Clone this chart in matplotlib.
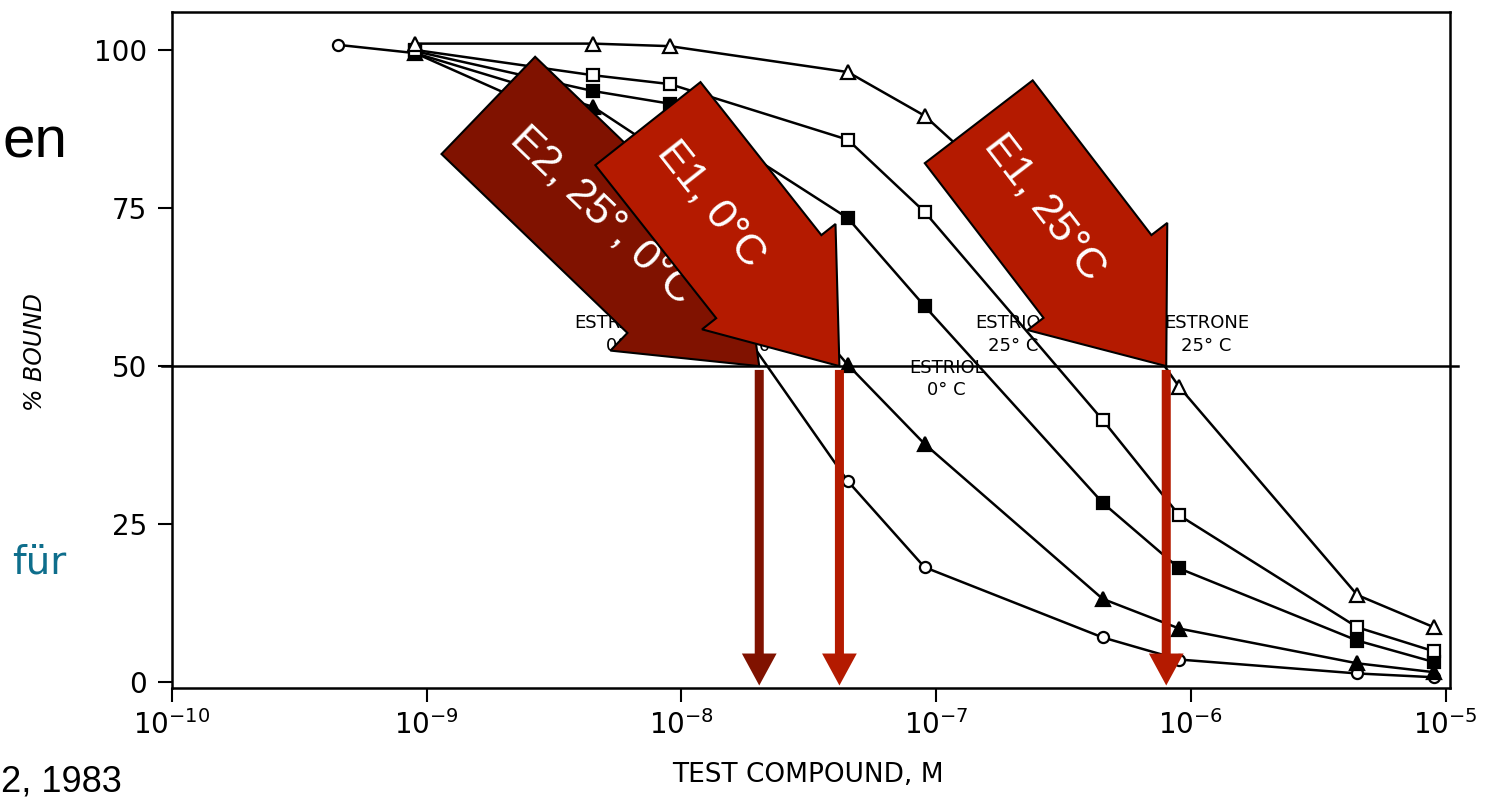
import matplotlib
matplotlib.use("Agg")
import matplotlib.pyplot as plt
import matplotlib.transforms as mtransforms
from matplotlib.patches import Polygon, FancyArrowPatch
import numpy as np

plt.rcParams['font.family'] = ['Liberation Sans Narrow', 'DejaVu Sans']
plt.rcParams['mathtext.default'] = 'regular'

# concentrations of test compound (M)
conc = [4.5e-10, 9e-10, 4.5e-9, 9e-9, 4.5e-8, 9e-8, 4.5e-7, 9e-7, 4.5e-6, 9e-6]
# % bound
estradiol_0 = [100.8, 99.5, 87.0, 72.0, 31.8, 18.2, 7.1, 3.6, 1.4, 0.8]
estrone_0 = [None, 99.5, 91.0, 83.0, 50.2, 37.7, 13.2, 8.5, 3.0, 1.6]
estriol_0 = [None, 99.8, 93.5, 91.5, 73.4, 59.5, 28.4, 18.0, 6.6, 3.2]
estriol_25 = [None, 100.0, 96.0, 94.6, 85.8, 74.4, 41.5, 26.4, 8.7, 4.9]
estrone_25 = [None, 101.0, 101.0, 100.6, 96.5, 89.6, 64.0, 46.7, 13.8, 8.7]

y_ticks = [0, 25, 50, 75, 100]
x_ticks = [1e-10, 1e-9, 1e-8, 1e-7, 1e-6, 1e-5]
x_ticklabels = ['$10^{-10}$', '$10^{-9}$', '$10^{-8}$', '$10^{-7}$', '$10^{-6}$', '$10^{-5}$']

# 50 % crossings marked with arrows
arrow_labels = ['E2, 25°, 0°C', 'E1, 0°C', 'E1, 25°C']
arrow_x = [2.02e-8, 4.17e-8, 8.0e-7]
arrow_colors = ['#801200', '#B41A00', '#B41A00']

curve_labels = [('ESTRADIOL\n0° C', 6.0e-9, 55), ('ESTRONE\n0° C', 2.4e-8, 55),
                ('ESTRIOL\n0° C', 1.1e-7, 48), ('ESTRIOL\n25° C', 2.0e-7, 55),
                ('ESTRONE\n25° C', 1.15e-6, 55)]


def pairs(ys):
    xs = [c for c, v in zip(conc, ys) if v is not None]
    vs = [v for v in ys if v is not None]
    return xs, vs


fig = plt.figure(figsize=(14.88, 8), dpi=100)
ax = fig.add_axes([172 / 1488, 1 - 688 / 800, 1278 / 1488, 676 / 800])
ax.set_xscale('log')
ax.set_xlim(1e-10, 1.04e-5)
ax.set_ylim(-0.9, 106)

series = [
    (estradiol_0, 'o', 'white', 8),
    (estrone_0, '^', 'black', 10),
    (estriol_0, 's', 'black', 8),
    (estriol_25, 's', 'white', 8),
    (estrone_25, '^', 'white', 10),
]
for ys, m, fc, ms in series:
    xs, vs = pairs(ys)
    ax.plot(xs, vs, color='black', lw=1.8, marker=m, mfc=fc, mec='black',
            mew=1.6, ms=ms, zorder=3)

for txt, x, y in curve_labels:
    ax.text(x, y, txt, fontsize=13, ha='center', va='center', zorder=2,
            linespacing=1.3)

ax.set_xticks(x_ticks)
ax.set_xticklabels(x_ticklabels)
ax.minorticks_off()
ax.set_yticks(y_ticks)
ax.tick_params(axis='both', direction='out', length=10, width=1.5,
               labelsize=20, colors='black')
ax.tick_params(axis='x', pad=6)
ax.tick_params(axis='y', pad=8)
for s in ax.spines.values():
    s.set_linewidth(1.8)

# 50 % line
trans_line = mtransforms.blended_transform_factory(ax.transAxes, ax.transData)
ax.plot([-0.008, 1.006], [50, 50], color='black', lw=1.8,
        transform=trans_line, clip_on=False, zorder=4)

# vertical arrows down to the x axis
for x, c in zip(arrow_x, arrow_colors):
    arr = FancyArrowPatch((x, 49.4), (x, -0.5),
                          arrowstyle='simple,head_length=2.3,head_width=2.5,tail_width=0.65',
                          mutation_scale=10, facecolor=c, edgecolor='none', lw=0,
                          shrinkA=0, shrinkB=0, zorder=5)
    ax.add_patch(arr)


def block_arrow(x, label, color, angle, body_len, body_w, head_len, head_half, text_t, z):
    a = np.radians(angle)
    d = np.array([np.cos(a), np.sin(a)])      # pixel coords, y down
    pl = np.array([-np.sin(a), np.cos(a)])
    base = -head_len * d
    nl = base + body_w / 2 * pl
    nr = base - body_w / 2 * pl
    pts = [nl - body_len * d, nl, base + head_half * pl, np.zeros(2),
           base - head_half * pl, nr, nr - body_len * d]
    verts = [(p[0] / 100, -p[1] / 100) for p in pts]
    tr = fig.dpi_scale_trans + mtransforms.ScaledTranslation(x, 50, ax.transData)
    ax.add_patch(Polygon(verts, closed=True, facecolor=color, edgecolor='black',
                         lw=1.5, joinstyle='miter', transform=tr, clip_on=False, zorder=z))
    tc = base - body_len * d + text_t * d
    ax.annotate(label, xy=(x, 50), xycoords='data',
                xytext=(tc[0] * 0.72, -tc[1] * 0.72), textcoords='offset points',
                rotation=-angle, rotation_mode='anchor', ha='center', va='center',
                color='white', fontsize=31, family=['Liberation Sans', 'DejaVu Sans'],
                zorder=z + 0.5, annotation_clip=False)


block_arrow(arrow_x[0], arrow_labels[0], arrow_colors[0], 43.9, 258, 135, 118, 92, 158, 6)
block_arrow(arrow_x[1], arrow_labels[1], arrow_colors[1], 51.7, 195, 134, 114, 85, 102, 8)
block_arrow(arrow_x[2], arrow_labels[2], arrow_colors[2], 52.5, 195, 136, 113, 88, 108, 8)

# axis labels
fig.text(35 / 1488, 1 - 352 / 800, '% BOUND', rotation=90, fontsize=17,
         style='italic', ha='center', va='center')
fig.text(808 / 1488, 1 - 775 / 800, 'TEST COMPOUND, M', fontsize=19,
         ha='center', va='center')

# leftover slide text at the left edge
fig.text(67 / 1488, 1 - 158 / 800, 'en', fontsize=42, ha='right', va='baseline',
         family=['Liberation Sans', 'DejaVu Sans'])
fig.text(66 / 1488, 1 - 574 / 800, 'für', fontsize=28, ha='right', va='baseline',
         color='#0E6E8C', family=['DejaVu Sans'])
fig.text(122 / 1488, 1 - 792 / 800, '2, 1983', fontsize=26, ha='right', va='baseline',
         family=['Liberation Sans', 'DejaVu Sans'])

fig.savefig('out.png', dpi=100)
